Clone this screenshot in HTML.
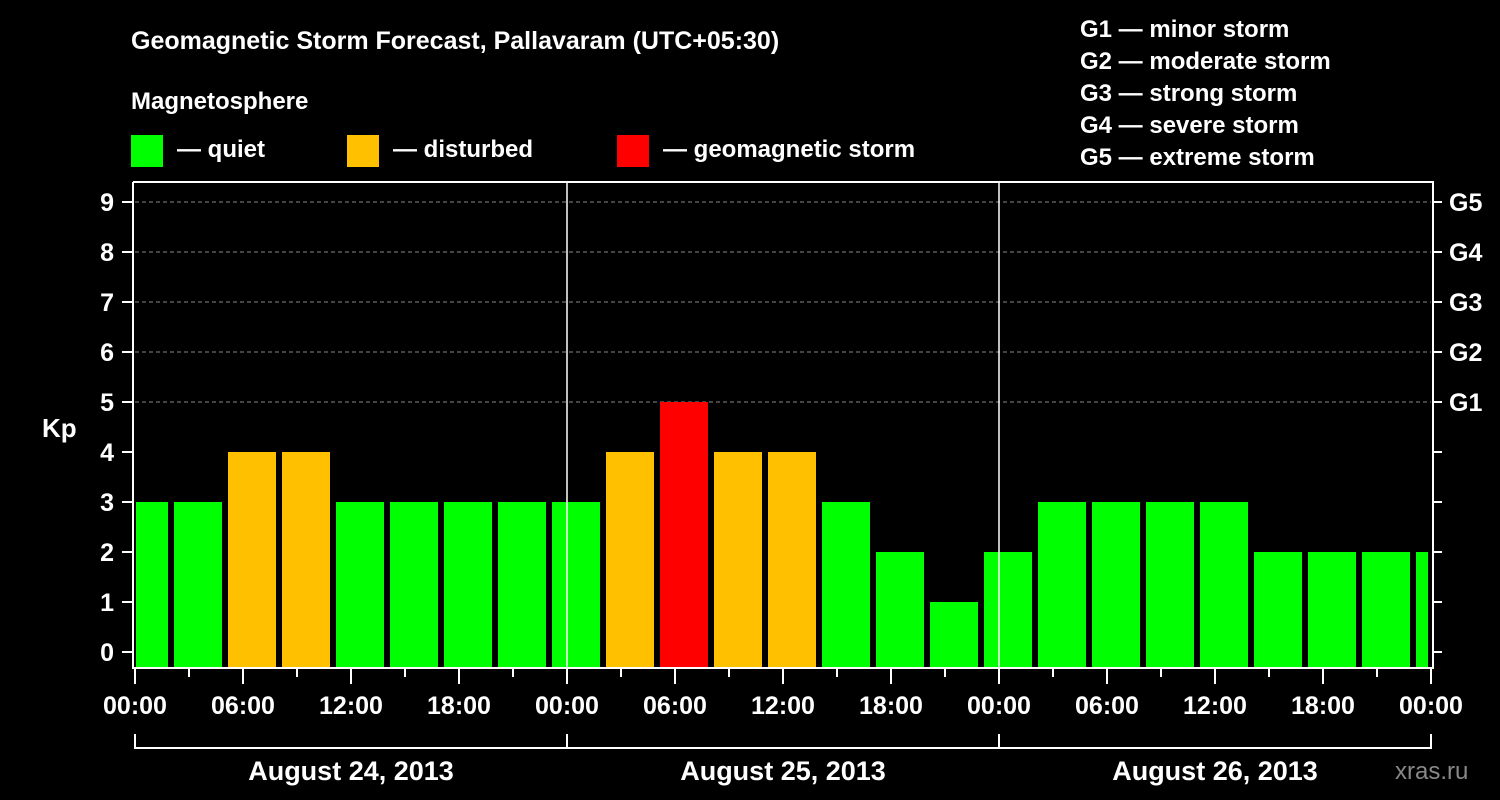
<!DOCTYPE html>
<html><head><meta charset="utf-8"><style>
html,body{margin:0;padding:0;background:#000;}
svg{display:block;font-family:"Liberation Sans",Arial,sans-serif;font-weight:bold;}
</style></head><body>
<svg id="chart" width="1500" height="800" viewBox="0 0 1500 800" xmlns="http://www.w3.org/2000/svg">
<rect width="1500" height="800" fill="#000"/>
<text x="131" y="49" fill="#fff" font-size="25">Geomagnetic Storm Forecast, Pallavaram (UTC+05:30)</text>
<text x="131" y="109" fill="#fff" font-size="24">Magnetosphere</text>
<g><rect x="131" y="135" width="32" height="32" fill="#00ff00"/><text x="177" y="157" fill="#fff" font-size="24">— quiet</text></g>
<g><rect x="347" y="135" width="32" height="32" fill="#ffc000"/><text x="393" y="157" fill="#fff" font-size="24">— disturbed</text></g>
<g><rect x="617" y="135" width="32" height="32" fill="#ff0000"/><text x="663" y="157" fill="#fff" font-size="24">— geomagnetic storm</text></g>
<g fill="#fff" font-size="24">
<text x="1080" y="37">G1 — minor storm</text>
<text x="1080" y="69">G2 — moderate storm</text>
<text x="1080" y="101">G3 — strong storm</text>
<text x="1080" y="133">G4 — severe storm</text>
<text x="1080" y="165">G5 — extreme storm</text>
</g>
<text x="42" y="437" fill="#fff" font-size="26">Kp</text>
<text x="1395" y="779" fill="#888" font-size="24" font-weight="normal">xras.ru</text>
<g id="grid"></g><g id="bars"></g><g id="axes"></g>
</svg>
<script>
const kpValues=[3,3,4,4,3,3,3,3,3,4,5,4,4,3,2,1,2,3,3,3,3,2,2,2,2];
const dayLabels=["August 24, 2013","August 25, 2013","August 26, 2013"];
const hourLabels=["00:00","06:00","12:00","18:00"];
const gLabels=["G1","G2","G3","G4","G5"];
const kpTicks=[0,1,2,3,4,5,6,7,8,9];
const NS="http://www.w3.org/2000/svg";
const X0=135, HOUR=18, Y0=652, UNIT=50, TOP=182, BOT=668, RIGHT=1431;
const firstOffset=2; // hours before first 3h boundary
const xs=h=>X0+h*HOUR, ys=v=>Y0-v*UNIT;
function mk(tag,attrs,parent){const e=document.createElementNS(NS,tag);for(const k in attrs)e.setAttribute(k,attrs[k]);parent.appendChild(e);return e;}
const grid=document.getElementById('grid'),bars=document.getElementById('bars'),axes=document.getElementById('axes');
// grid
for(let i=0;i<gLabels.length;i++){
  const y=ys(5+i);
  const l=mk('line',{x1:X0,x2:RIGHT,y1:y,y2:y,stroke:'#888','stroke-dasharray':'4,3','stroke-width':1},grid);
  
  
  const t=mk('text',{x:1449,y:y+9,fill:'#fff','font-size':25},axes);
  t.textContent=gLabels[i];
  
  
}
// bars
const totalH=hourLabels.length*6*dayLabels.length/4*1; // 72
const totalHours=72;
kpValues.forEach((v,i)=>{
  let h0=i===0?0:firstOffset+3*(i-1);
  let h1=Math.min(firstOffset+3*i,totalHours);
  let x0=xs(h0)+3,x1=xs(h1)-3;
  if(i===0)x0=xs(h0)+1;
  const col=v>=5?'#ff0000':(v>=4?'#ffc000':'#00ff00');
  const r=mk('rect',{x:x0,y:ys(v),width:Math.max(0,x1-x0),height:BOT-1-ys(v),fill:col},bars);
  
  
});
// axes frame
mk('polyline',{points:`${X0-2},${TOP} ${X0-2},${BOT} ${RIGHT+2},${BOT} ${RIGHT+2},${TOP} ${X0-2},${TOP}`,fill:'none',stroke:'#fff','stroke-width':2},axes);
for(let d=1;d<dayLabels.length;d++){
  const x=xs(24*d);
  const l=mk('line',{x1:x,x2:x,y1:TOP,y2:BOT,stroke:'#fff','stroke-width':1.5},axes);
  
  
}
kpTicks.forEach(k=>{
  const y=ys(k);
  mk('line',{x1:X0-13,x2:X0-2,y1:y,y2:y,stroke:'#fff','stroke-width':2},axes);
  mk('line',{x1:RIGHT+2,x2:RIGHT+11,y1:y,y2:y,stroke:'#fff','stroke-width':2},axes);
  const t=mk('text',{x:X0-21,y:y+9,fill:'#fff','font-size':25,'text-anchor':'end'},axes);
  t.textContent=k;
  
  
});
for(let h=0;h<=totalHours;h+=3){
  const x=xs(h),major=h%6===0;
  mk('line',{x1:x,x2:x,y1:BOT,y2:BOT+(major?16:9),stroke:'#fff','stroke-width':2},axes);
  if(major){
    const t=mk('text',{x:x,y:714,fill:'#fff','font-size':25,'text-anchor':'middle'},axes);
    t.textContent=hourLabels[(h/6)%4];
    
    
  }
}
mk('line',{x1:X0,x2:RIGHT,y1:748,y2:748,stroke:'#fff','stroke-width':2},axes);
for(let d=0;d<=dayLabels.length;d++){
  const x=xs(24*d);
  mk('line',{x1:x,x2:x,y1:734,y2:749,stroke:'#fff','stroke-width':2},axes);
}
dayLabels.forEach((s,d)=>{
  const t=mk('text',{x:xs(24*d+12),y:780,fill:'#fff','font-size':27,'text-anchor':'middle'},axes);
  t.textContent=s;
  
  
});
</script>
</body></html>
